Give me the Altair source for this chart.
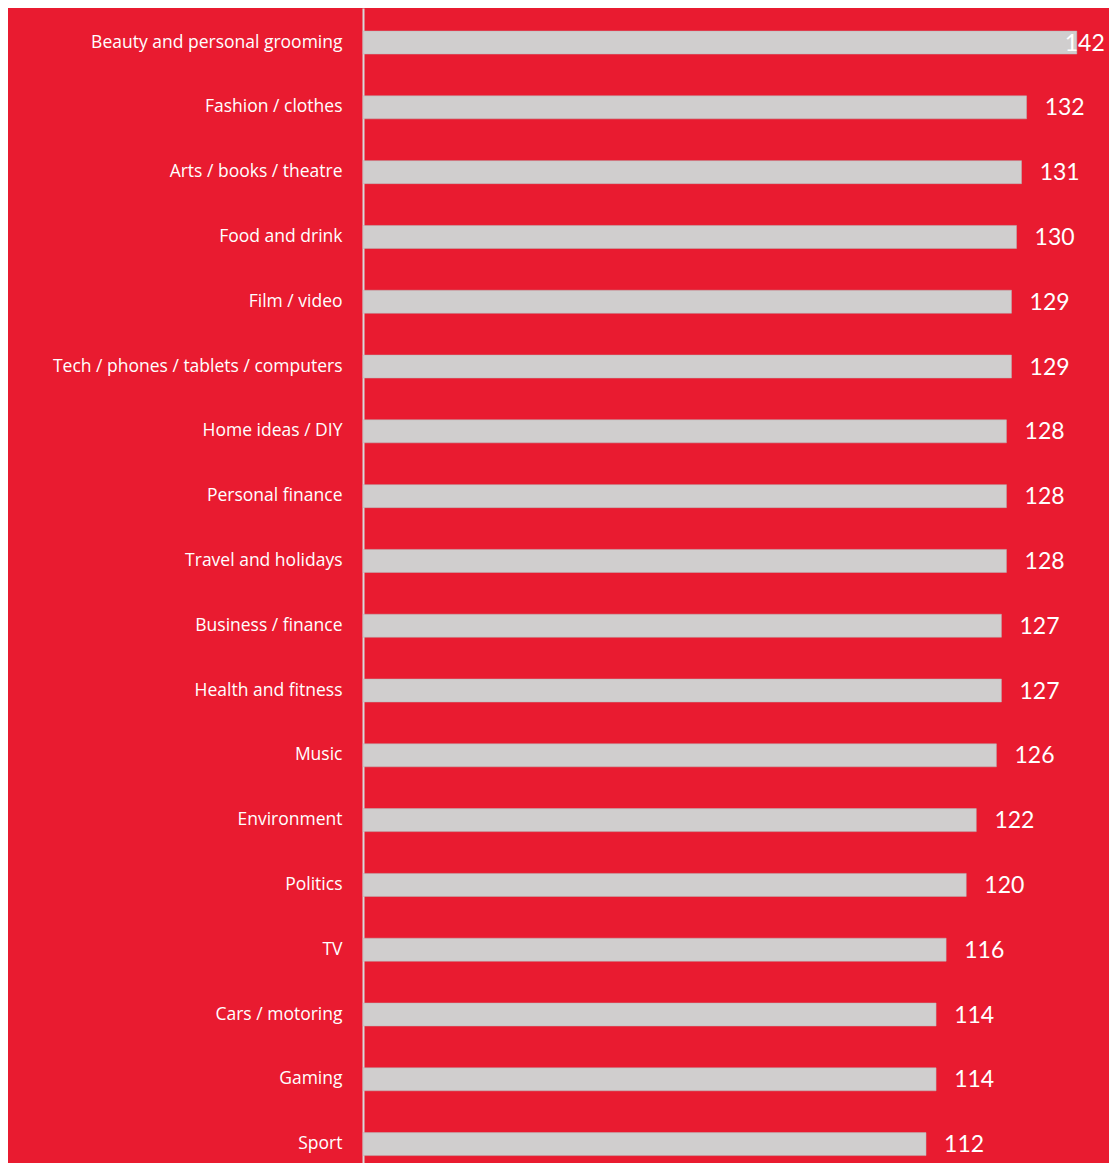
import altair as alt
import pandas as pd

categories = [
    "Beauty and personal grooming", "Fashion / clothes", "Arts / books / theatre",
    "Food and drink", "Film / video", "Tech / phones / tablets / computers",
    "Home ideas / DIY", "Personal finance", "Travel and holidays",
    "Business / finance", "Health and fitness", "Music", "Environment",
    "Politics", "TV", "Cars / motoring", "Gaming", "Sport",
]
values = [142, 132, 131, 130, 129, 129, 128, 128, 128, 127, 127, 126, 122, 120, 116, 114, 114, 112]

df = pd.DataFrame({"category": categories, "value": values})

RED = "#E91B30"
GREY = "#D0CECE"

y_enc = alt.Y(
    "category:N", sort=categories, title=None,
    scale=alt.Scale(paddingInner=0.645, paddingOuter=0.235, align=0.757),
    axis=alt.Axis(
        labelColor="white", labelFont="Open Sans", labelFontSize=17.5,
        labelPadding=21, ticks=False, domainColor="#D9D9D9", domainWidth=2,
        labelLimit=400,
    ),
)
x_scale = alt.Scale(domain=[0, 148.4], nice=False)

bars = alt.Chart(df).mark_bar(color=GREY, stroke="#B8B6B6", strokeWidth=0.5).encode(
    x=alt.X("value:Q", scale=x_scale, axis=None),
    y=y_enc,
)

labels = alt.Chart(df).transform_calculate(
    pos="min(datum.value + 3.6, 139.6)"
).mark_text(
    align="left", baseline="middle", color="white", font="Lato", fontSize=23, dy=1
).encode(
    x=alt.X("pos:Q", scale=x_scale, axis=None),
    y=alt.Y("category:N", sort=categories),
    text="value:Q",
)

chart = alt.layer(bars, labels).properties(
    width=746, height=1155, background=RED,
    autosize=alt.AutoSizeParams(type="none"),
    padding={"left": 355, "top": 0, "right": 0, "bottom": 0},
).configure_view(stroke=None)

chart.save("out.html", embed_options={"renderer": "svg", "actions": False})
